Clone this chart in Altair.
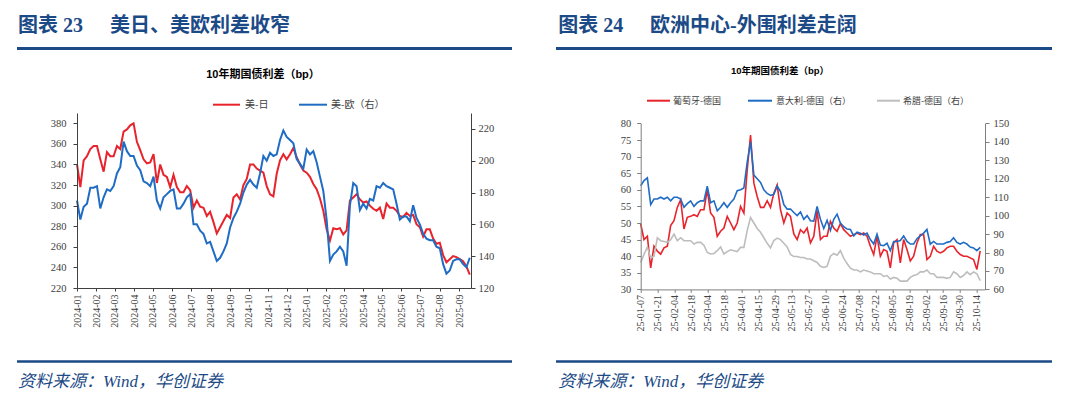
import altair as alt
import pandas as pd

# ---------------- texts ----------------
fig23_no = "图表 23"
fig23_name = "美日、美欧利差收窄"
fig24_no = "图表 24"
fig24_name = "欧洲中心-外围利差走阔"
chart_title = "10年期国债利差（bp）"
source_note = "资料来源：Wind，华创证券"
fig23_series = ["美-日", "美-欧（右）"]
fig24_series = ["葡萄牙-德国", "意大利-德国（右）", "希腊-德国（右）"]

# ---------------- figure 23 data (bp) ----------------
fig23_start, fig23_end = "2024-01-01", "2025-09-18"
us_jp = [340, 318, 344, 348, 355, 358, 358, 345, 333, 352,
         348, 348, 358, 355, 372, 374, 378, 380, 362, 354,
         345, 341, 342, 350, 322, 340, 330, 328, 318, 330,
         318, 313, 313, 319, 315, 298, 305, 299, 298, 290,
         294, 284, 273, 279, 285, 291, 288, 308, 311, 306,
         320, 326, 340, 340, 336, 334, 332, 319, 311, 309,
         331, 344,
         350, 345, 350, 356, 347, 340, 334, 332, 328, 321,
         316, 307, 295, 277, 266, 278, 277, 278, 272, 276,
         305, 308, 311, 306, 303, 304, 300, 297, 295, 298,
         287, 302, 298, 298, 295, 290, 289, 293, 290, 291,
         282, 279, 270, 277, 277, 268, 263, 264, 252, 245,
         248, 251, 250, 248, 246, 241, 233]
us_eu = [175, 163, 171, 173, 183, 183, 184, 170, 177, 182,
         181, 184, 192, 196, 212, 206, 203, 203, 197, 194,
         187, 186, 184, 190, 175, 170, 177, 179, 181, 182,
         170, 170, 173, 177, 179, 160, 160, 156, 154, 148,
         149, 143, 137, 139, 143, 148, 158, 164, 168, 173,
         180, 185, 188, 185, 183, 192, 203, 200, 205, 203,
         204, 213,
         219, 215, 213, 211, 201, 198, 195, 207, 204, 206,
         199, 190, 181, 163, 137, 141, 143, 146, 143, 134,
         172, 186, 184, 169, 173, 170, 176, 175, 184, 183,
         186, 184, 183, 182, 173, 163, 165, 165, 162, 172,
         164, 160, 154, 151, 150, 150, 146, 145, 135, 129,
         131, 137, 138, 138, 135, 133, 139]
fig23_left_ticks = [220, 240, 260, 280, 300, 320, 340, 360, 380]
fig23_right_ticks = [120, 140, 160, 180, 200, 220]

# ---------------- figure 24 data (bp) ----------------
fig24_start, fig24_end = "2025-01-07", "2025-10-17"
pt_de = [49.7, 45, 46, 36.5, 43, 41.5, 40.6, 42.5, 43, 49.2,
         50.7, 54.7, 57, 48.2, 51.7, 52, 52.5, 52, 54, 54,
         60, 53, 51.7, 46, 47.5, 48.5, 52, 50, 48, 50,
         55, 53, 66, 76.5, 62, 58, 54.7, 54.7, 56.7, 54.7,
         59, 61.5, 54, 50, 53, 52, 46.7, 45, 48, 47,
         48.5, 44, 46, 53.7, 45, 46, 46, 50.5, 48.5, 47.5,
         49.8, 48, 47, 46, 46.5, 47, 46.5, 47, 46, 43,
         40.5, 46, 40, 42, 41.5, 36.5, 44, 45, 38, 45,
         42, 38.6, 40, 44, 46.5, 46.5, 39, 40, 43, 41.5,
         41, 41.5, 42.5, 43, 43, 41.5, 40.5, 40, 40, 39.5,
         39, 36, 41.6]
it_de = [116.2, 119, 120.5, 106, 109, 109, 110, 109, 110, 108,
         110, 110, 109, 104.5, 106.5, 108, 105, 107, 108, 108,
         116, 107, 108, 102.6, 104.5, 107, 104.5, 107, 109, 113.5,
         114, 115, 129, 140, 122, 120, 118, 114, 112, 111,
         111.5, 116, 113, 106, 103.5, 103.6, 101.7, 100, 102, 98,
         100, 97.2, 97, 105, 98, 93, 97.5, 92, 98, 100.8,
         96, 94, 92.7, 92.5, 89, 91, 90.5, 89.5, 90.5, 87,
         84.6, 90, 84, 83.7, 85, 81, 86, 86, 86.5, 89,
         86, 84.6, 84.6, 87.5, 89, 90.5, 92.5, 84.5, 86, 84.6,
         84.6, 84.6, 85.5, 86, 88, 85.5, 84.6, 85.5, 84.6, 83,
         82.5, 81, 82.8]
gr_de = [74.6, 79, 83, 77, 78, 88, 86.4, 86, 85.5, 87,
         90, 86.4, 88, 86.4, 86.4, 86.4, 84.6, 85.5, 85.5, 84,
         80, 79.2, 79.5, 81, 83, 79.2, 80.5, 81.5, 81, 80.5,
         82.8, 82.8, 92, 99, 96, 93, 91, 88, 85, 82.5,
         86.5, 87.8, 87, 85, 83, 79, 77.8, 77.8, 77.3, 77.3,
         76.5, 76.5, 75.5, 74.6, 72.5, 71.9, 72.5, 78, 79.5, 78.5,
         81, 77, 74, 71.5, 70.5, 70.5, 69.5, 70.5, 70, 69.5,
         68.5, 68.5, 68.5, 67, 67.5, 65.6, 66.5, 66, 64.5, 64.5,
         64.5, 66.5, 67.5, 68, 69.5, 69.5, 70.5, 68.5, 68.5, 66.5,
         66.5, 66.5, 66, 66.5, 69.5, 68.5, 66.5, 67.5, 69.5, 68,
         69.5, 68.5, 64.8]
fig24_left_ticks = [30, 35, 40, 45, 50, 55, 60, 65, 70, 75, 80]
fig24_right_ticks = [60, 70, 80, 90, 100, 110, 120, 130, 140, 150]

# ---------------- style ----------------
NAVY = "#1B4A86"
RED = "#E8232B"
BLUE = "#1F6CC4"
GRAY = "#BDBDBD"
AXIS_C = "#404040"
AXIS_C2 = "#7F7F7F"
LABEL_C = "#404040"
SERIF = "Liberation Serif, Noto Sans CJK SC"
HEAD = "Liberation Serif, Noto Sans CJK SC"
CJK = "Noto Sans CJK SC"
SANS = "Liberation Sans, Noto Sans CJK SC"


def stamps(start, end, n):
    return [d.strftime("%Y/%m/%d %H:%M:%S") for d in pd.date_range(start, end, periods=n)]


def dt(d):
    return alt.DateTime(year=d.year, month=d.month, date=d.day)


df23 = pd.DataFrame({"date": stamps(fig23_start, fig23_end, len(us_jp)), "us_jp": us_jp, "us_eu": us_eu})
df24 = pd.DataFrame({"date": stamps(fig24_start, fig24_end, len(pt_de)),
                     "pt_de": pt_de, "it_de": it_de, "gr_de": gr_de})

one = pd.DataFrame({"k": [0]})


def txt(s, x, y, size, color, font, weight="normal", style="normal", align="left", baseline="middle"):
    return alt.Chart(one).mark_text(text=s, fontSize=size, color=color, font=font, fontWeight=weight,
                                    fontStyle=style, align=align, baseline=baseline).encode(
        x=alt.value(x), y=alt.value(y))


def hline(x1, x2, y, color, w):
    return alt.Chart(one).mark_rule(color=color, strokeWidth=w).encode(
        x=alt.value(x1), x2=alt.value(x2), y=alt.value(y))


# ---------------- panel 23 ----------------
W23, H23 = 394, 175
month_ticks = [dt(d) for d in pd.date_range("2024-01-01", "2025-09-01", freq="MS")]
x23 = alt.X("date:T", title=None,
            scale=alt.Scale(domain=[alt.DateTime(year=2024, month=1, date=1),
                                    alt.DateTime(year=2025, month=9, date=20)]),
            axis=alt.Axis(values=month_ticks, format="%Y-%m", labelAngle=-90, grid=False, zindex=2,
                          domainColor=AXIS_C, tickColor=AXIS_C, tickSize=3, labelPadding=3,
                          labelFont=SERIF, labelFontSize=10, labelColor=LABEL_C,
                          labelFlush=False, labelOverlap=False))
red23 = alt.Chart(df23).mark_line(color=RED, strokeWidth=2).encode(
    x=x23,
    y=alt.Y("us_jp:Q", title=None, scale=alt.Scale(domain=[220, 390]),
            axis=alt.Axis(orient="left", values=fig23_left_ticks, grid=False, domainColor=AXIS_C,
                          tickColor=AXIS_C, tickSize=4, labelPadding=7, labelFont=SERIF, zindex=2,
                          labelFontSize=10.5, labelColor=LABEL_C)))
blue23 = alt.Chart(df23).mark_line(color=BLUE, strokeWidth=2).encode(
    x=x23,
    y=alt.Y("us_eu:Q", title=None, scale=alt.Scale(domain=[120, 230]),
            axis=alt.Axis(orient="right", values=fig23_right_ticks, grid=False, domainColor=AXIS_C,
                          tickColor=AXIS_C, tickSize=4, labelPadding=3, labelFont=SERIF, zindex=2,
                          labelFontSize=10.5, labelColor=LABEL_C)))

bg = alt.Chart(one).mark_rect(color="white").encode(
    x=alt.value(-69), x2=alt.value(995), y=alt.value(-104.3), y2=alt.value(278.7))

panel23 = alt.layer(
    bg,
    hline(-60, 435, -64.6, NAVY, 3),
    txt(fig23_no, -59, -87, 20, NAVY, HEAD, weight="bold"),
    txt(fig23_name, 33, -87, 20, NAVY, HEAD, weight="bold"),
    txt(chart_title, 186, -38.3, 11, "#000000", SANS, weight="bold", align="center"),
    hline(136, 163, -8.3, RED, 2),
    txt(fig23_series[0], 168, -8.3, 10, LABEL_C, CJK),
    hline(222, 250, -8.3, BLUE, 2),
    txt(fig23_series[1], 254, -8.3, 10, LABEL_C, CJK),
    red23, blue23,
    hline(-60, 435, 248.4, NAVY, 2.5),
    txt(source_note, -59, 269.2, 17, NAVY, SERIF, style="italic"),
).resolve_scale(y="independent").properties(width=W23, height=H23)

# ---------------- panel 24 ----------------
W24, H24 = 344.3, 176.4
YR24 = [176.4, 10.4]
day_ticks = [dt(d) for d in pd.date_range("2025-01-07", "2025-10-14", freq="14D")]
x24 = alt.X("date:T", title=None,
            scale=alt.Scale(domain=[alt.DateTime(year=2025, month=1, date=7),
                                    alt.DateTime(year=2025, month=10, date=21)]),
            axis=alt.Axis(values=day_ticks, format="%y-%m-%d", labelAngle=-90, grid=False, zindex=2,
                          domainColor=AXIS_C2, tickColor=AXIS_C2, tickSize=3, labelPadding=2,
                          labelFont=SERIF, labelFontSize=10, labelColor=LABEL_C,
                          labelFlush=False, labelOverlap=False))
red24 = alt.Chart(df24).mark_line(color=RED, strokeWidth=1.6).encode(
    x=x24,
    y=alt.Y("pt_de:Q", title=None, scale=alt.Scale(domain=[30, 80], range=YR24),
            axis=alt.Axis(orient="left", values=fig24_left_ticks, grid=False, domainColor=AXIS_C2,
                          tickColor=AXIS_C2, tickSize=4, labelPadding=6, labelFont=SERIF, zindex=2,
                          labelFontSize=10.5, labelColor=LABEL_C)))
blue24 = alt.Chart(df24).mark_line(color=BLUE, strokeWidth=1.6).encode(
    x=x24,
    y=alt.Y("it_de:Q", title=None, scale=alt.Scale(domain=[60, 150], range=YR24),
            axis=alt.Axis(orient="right", values=fig24_right_ticks, grid=False, domainColor=AXIS_C2,
                          tickColor=AXIS_C2, tickSize=4, labelPadding=4, labelFont=SERIF, zindex=2,
                          labelFontSize=10.5, labelColor=LABEL_C)))
gray24 = alt.Chart(df24).mark_line(color=GRAY, strokeWidth=1.6).encode(
    x=x24,
    y=alt.Y("gr_de:Q", title=None, scale=alt.Scale(domain=[60, 150], range=YR24), axis=None))

panel24 = alt.layer(
    hline(-84.7, 411.3, -64.6, NAVY, 3),
    txt(fig24_no, -82.4, -87, 20, NAVY, HEAD, weight="bold"),
    txt(fig24_name, 9.3, -87, 20, NAVY, HEAD, weight="bold"),
    txt(chart_title, 139.3, -42.3, 9.5, "#000000", SANS, weight="bold", align="center"),
    hline(6.3, 29.3, -12.3, RED, 2),
    txt(fig24_series[0], 32.3, -12.3, 9, LABEL_C, CJK),
    hline(107.3, 131.3, -12.3, BLUE, 2),
    txt(fig24_series[1], 135.3, -12.3, 9, LABEL_C, CJK),
    hline(236.3, 259.3, -12.3, GRAY, 2),
    txt(fig24_series[2], 262.3, -12.3, 9, LABEL_C, CJK),
    red24, gray24, blue24,
    hline(-84.7, 411.3, 248.4, NAVY, 2.5),
    txt(source_note, -82.4, 269.2, 17, NAVY, SERIF, style="italic"),
).resolve_scale(y="independent").properties(width=W24, height=H24)

chart = alt.hconcat(panel23, panel24, spacing=169.7, bounds="flush", padding=0,
                    background="white").configure_view(strokeWidth=0)

chart.save("out.html", embed_options={"renderer": "svg", "actions": False})
